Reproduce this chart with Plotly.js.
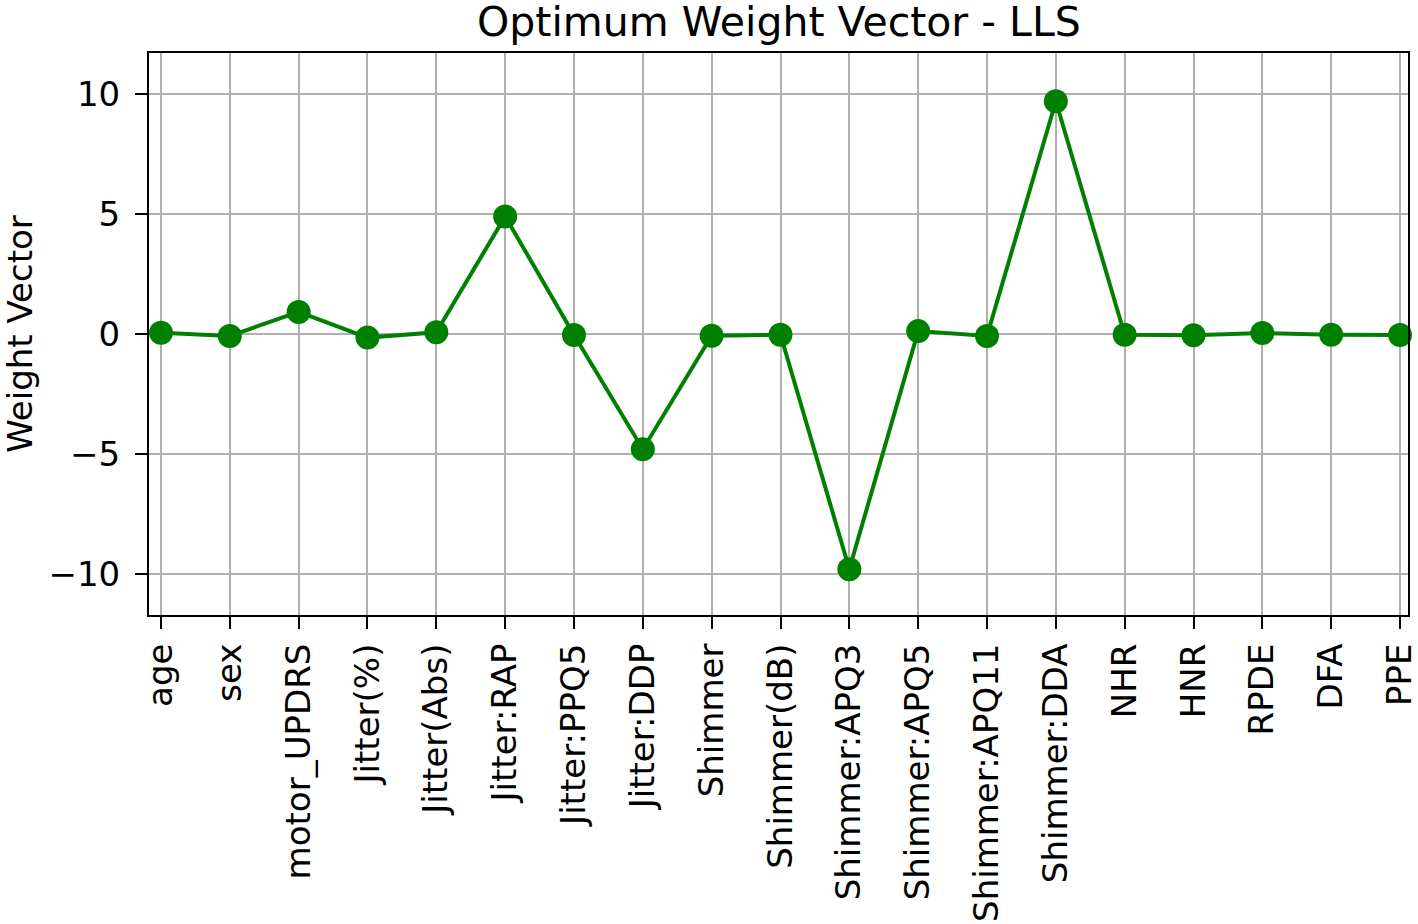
<!DOCTYPE html>
<html>
<head>
<meta charset="utf-8">
<script src="https://cdn.plot.ly/plotly-3.0.1.min.js"></script>
<style>html,body{margin:0;padding:0;background:#fff;}#chart{width:1418px;height:924px;}</style>
</head>
<body>
<div id="chart"></div>
<script>
const features = ["age","sex","motor_UPDRS","Jitter(%)","Jitter(Abs)","Jitter:RAP","Jitter:PPQ5","Jitter:DDP","Shimmer","Shimmer(dB)","Shimmer:APQ3","Shimmer:APQ5","Shimmer:APQ11","Shimmer:DDA","NHR","HNR","RPDE","DFA","PPE"];
const weights = [0.05,-0.08,0.92,-0.15,0.07,4.9,-0.04,-4.8,-0.07,-0.03,-9.8,0.12,-0.08,9.7,-0.03,-0.05,0.04,-0.03,-0.04];
const yTicks = [-10,-5,0,5,10];

const idx = features.map((_, i) => i);
const font = {family: "DejaVu Sans", color: "#000", size: 34};

Plotly.newPlot("chart", [{
  x: idx,
  y: weights,
  type: "scatter",
  mode: "lines+markers",
  line: {color: "#008000", width: 4},
  marker: {color: "#008000", size: 24},
  hoverinfo: "skip",
  cliponaxis: false
}], {
  width: 1418, height: 924,
  paper_bgcolor: "#fff", plot_bgcolor: "#fff",
  margin: {l: 148, r: 8, t: 53, b: 309},
  showlegend: false,
  font: font,
  title: {text: "Optimum Weight Vector - LLS", font: {family: "DejaVu Sans", size: 41, color: "#000"},
          x: 0.5493, xanchor: "center", xref: "container", y: 0.977, yanchor: "middle", yref: "container"},
  xaxis: {
    range: [-0.174, 18.116],
    tickmode: "array", tickvals: idx, ticktext: features,
    tickangle: -90,
    ticks: "outside", ticklen: 12, tickwidth: 2, tickcolor: "#000",
    ticklabelstandoff: 1,
    ticklabeloverflow: "allow",
    showline: true, linecolor: "#000", linewidth: 2, mirror: true,
    showgrid: true, gridcolor: "#b0b0b0", gridwidth: 2,
    zeroline: false,
    tickfont: font
  },
  yaxis: {
    range: [-11.71, 11.71],
    tickmode: "array", tickvals: yTicks,
    ticks: "outside", ticklen: 12, tickwidth: 2, tickcolor: "#000",
    ticklabelstandoff: 8,
    showline: true, linecolor: "#000", linewidth: 2, mirror: true,
    showgrid: true, gridcolor: "#b0b0b0", gridwidth: 2,
    zeroline: false,
    tickfont: font,
    title: {text: "Weight Vector", font: font, standoff: 17},
    automargin: true
  }
}, {displayModeBar: false, staticPlot: true});
</script>
</body>
</html>
